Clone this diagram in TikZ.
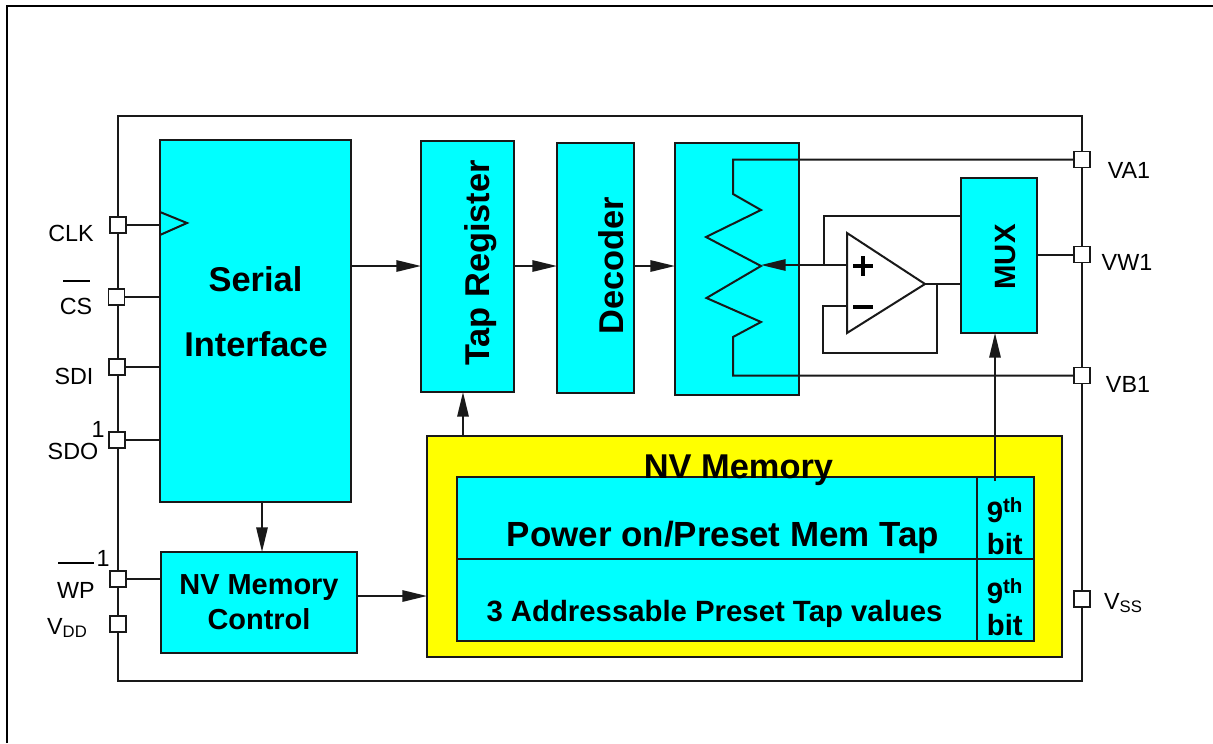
\documentclass[tikz,border=0pt]{standalone}
\usepackage{fontspec}
\setmainfont{Liberation Sans}
\usetikzlibrary{arrows.meta}

\definecolor{blockcyan}{RGB}{0,255,255}
\definecolor{memyellow}{RGB}{255,255,0}

\tikzset{
    wire/.style={line width=1.5pt, draw=black!90},
    arrowline/.style={wire, -{Triangle[length=18.5pt, width=8.5pt]}},
    padbox/.style={rectangle, draw=black!90, line width=1.4pt, fill=white, inner sep=0pt, minimum size=12pt, outer sep=0pt},
    block/.style={rectangle, draw=black!90, line width=1.5pt, fill=blockcyan, inner sep=0pt, outer sep=0pt, align=center},
    pinlabel/.style={inner sep=0pt, font=\fontsize{17.5pt}{21pt}\selectfont},
    bigtext/.style={inner sep=0pt, font=\fontsize{25.8pt}{30pt}\selectfont\bfseries},
    midtext/.style={inner sep=0pt, font=\fontsize{22pt}{26pt}\selectfont\bfseries},
    bittext/.style={inner sep=0pt, align=left, font=\fontsize{22pt}{24pt}\selectfont\bfseries},
}
\newcommand{\subpin}[1]{\raisebox{-.3ex}{\fontsize{12.5pt}{14pt}\selectfont #1}}

\begin{document}
\begin{tikzpicture}[x=0.75pt, y=-0.75pt]

    \useasboundingbox (0,0) rectangle (1213,743);
    \coordinate (framecorner) at (7,6);
    \draw[line width=2pt] (7,743) -- (framecorner) -- (1213,6);

    % package outline
    \node[rectangle, draw=black!90, line width=1.4pt, minimum width=964*.75pt, minimum height=565*.75pt] (chip) at (600,398.5) {};

    % pads
    \foreach \pname/\x/\y in {CLK/118/225, CS/116.5/297, SDI/117/367, SDO/117/440, WP/118/579, VDD/118/624, VA/1082/159.5, VW/1082/254.5, VB/1082/375.5, VSS/1082/599}
        \node[padbox] (pad\pname) at (\x,\y) {};

    % blocks
    \node[block, minimum width=191*.75pt, minimum height=362*.75pt] (serial) at (255.5,321) {};
    \node[block, minimum width=93*.75pt, minimum height=251*.75pt] (tapreg) at (467.5,266.5) {};
    \node[block, minimum width=77*.75pt, minimum height=250*.75pt] (decoder) at (595.5,268) {};
    \node[block, minimum width=124*.75pt, minimum height=252*.75pt] (resbox) at (737,269) {};
    \node[block, minimum width=76*.75pt, minimum height=155*.75pt] (mux) at (999,255.5) {};
    \node[block, minimum width=196*.75pt, minimum height=101*.75pt, font=\fontsize{21.7pt}{26.5pt}\selectfont\bfseries] (nvctl) at (259,602.5) {NV Memory\\Control};
    \node[block, fill=memyellow, minimum width=635*.75pt, minimum height=221*.75pt] (nvmem) at (744.5,546.5) {};
    \node[block, minimum width=520*.75pt, minimum height=82*.75pt] (presetA) at (717,518) {};
    \node[block, minimum width=57*.75pt, minimum height=82*.75pt] (bitA) at (1005.5,518) {};
    \node[block, minimum width=520*.75pt, minimum height=82*.75pt] (presetB) at (717,600) {};
    \node[block, minimum width=57*.75pt, minimum height=82*.75pt] (bitB) at (1005.5,600) {};

    % block texts
    \node[bigtext] (nvmemtxt) at (738.5,470) {NV Memory};
    \node[bigtext] (serialtxt) at (255.5,279) {Serial};
    \node[bigtext] (ifacetxt) at (256,344) {Interface};
    \node[bigtext, rotate=90] (taptxt) at (481,263) {Tap Register};
    \node[bigtext, rotate=90] (dectxt) at (611,266) {Decoder};
    \node[midtext, rotate=90] (muxtxt) at (1005.5,257) {MUX};
    \node[bigtext, font=\fontsize{26.2pt}{30pt}\selectfont\bfseries] (powertxt) at (723,537) {Power on/Preset Mem Tap};
    \node[midtext] (addrtxt) at (714.5,614) {3 Addressable Preset Tap values};
    \node[bittext] (bitAtxt) at (1005,526) {9\textsuperscript{th}\\bit};
    \node[bittext] (bitBtxt) at (1005,607) {9\textsuperscript{th}\\bit};

    % pin labels
    \node[pinlabel] (lclk) at (71,233) {CLK};
    \node[pinlabel] (lcs) at (76,306) {CS};
    \node[pinlabel] (lsdi) at (74,376) {SDI};
    \node[pinlabel] (lsdo) at (73,451) {SDO};
    \node[pinlabel] (lsdon) at (98,429) {1};
    \node[pinlabel] (lwp) at (76,590) {WP};
    \node[pinlabel] (lwpn) at (103,558) {1};
    \node[pinlabel] (lvdd) at (67,628) {V\subpin{DD}};
    \node[pinlabel] (lva) at (1129,170) {VA1};
    \node[pinlabel] (lvw) at (1127,262) {VW1};
    \node[pinlabel] (lvb) at (1128,384) {VB1};
    \node[pinlabel] (lvss) at (1123,603) {V\subpin{SS}};
    \draw[line width=1pt] (63,281) -- (90,281);
    \draw[line width=1pt] (58,563) -- (94,563);

    % pin wires
    \draw[wire] (padCLK.east) -- (padCLK.east -| serial.west);
    \draw[wire] (padCS.east) -- (padCS.east -| serial.west);
    \draw[wire] (padSDI.east) -- (padSDI.east -| serial.west);
    \draw[wire] (padSDO.east) -- (padSDO.east -| serial.west);
    \draw[wire] (padWP.east) -- (padWP.east -| nvctl.west);
    \draw[wire] (mux.east |- padVW.west) -- (padVW.west);

    % clock mark
    \draw[wire] (160,212) -- (187,223) -- (160,235);

    % data path
    \coordinate (busy) at (0,266);
    \coordinate (busm) at (0,596);
    \draw[arrowline] (serial.east |- busy) -- (tapreg.west |- busy);
    \draw[arrowline] (tapreg.east |- busy) -- (decoder.west |- busy);
    \draw[arrowline] (decoder.east |- busy) -- (resbox.west |- busy);
    \draw[arrowline] (serial.south -| 262,0) -- (nvctl.north -| 262,0);
    \draw[arrowline] (nvctl.east |- busm) -- (nvmem.west |- busm);
    \draw[arrowline] (nvmem.north -| 463,0) -- (tapreg.south -| 463,0);
    \draw[arrowline] (995,481) -- (mux.south -| 995,0);

    % resistor
    \draw[wire] (padVA.west) -- (733,159.5) -- (733,194) -- (761,210) -- (706,237) -- (761,266) -- (706.5,298) -- (761,322) -- (733,337) -- (733,375.5) -- (padVB.west);

    % buffer amp
    \coordinate (ampplus) at (847,265);
    \coordinate (ampminus) at (847,306);
    \coordinate (ampout) at (925,284);
    \draw[wire, fill=white] (847,233) -- (ampout) -- (847,333) -- cycle;
    \draw[arrowline] (ampplus) -- (761,265);
    \draw[wire] (824,265) -- (824,216) -- (mux.west |- 0,216);
    \draw[wire] (ampout) -- (mux.west |- ampout);
    \draw[wire] (937,284) -- (937,353) -- (823,353) -- (823,306) -- (ampminus);
    \draw[line width=3pt] (853,266) -- (873,266) (863,256) -- (863,276);
    \draw[line width=3pt] (853,307) -- (873,307);

\end{tikzpicture}
\end{document}
